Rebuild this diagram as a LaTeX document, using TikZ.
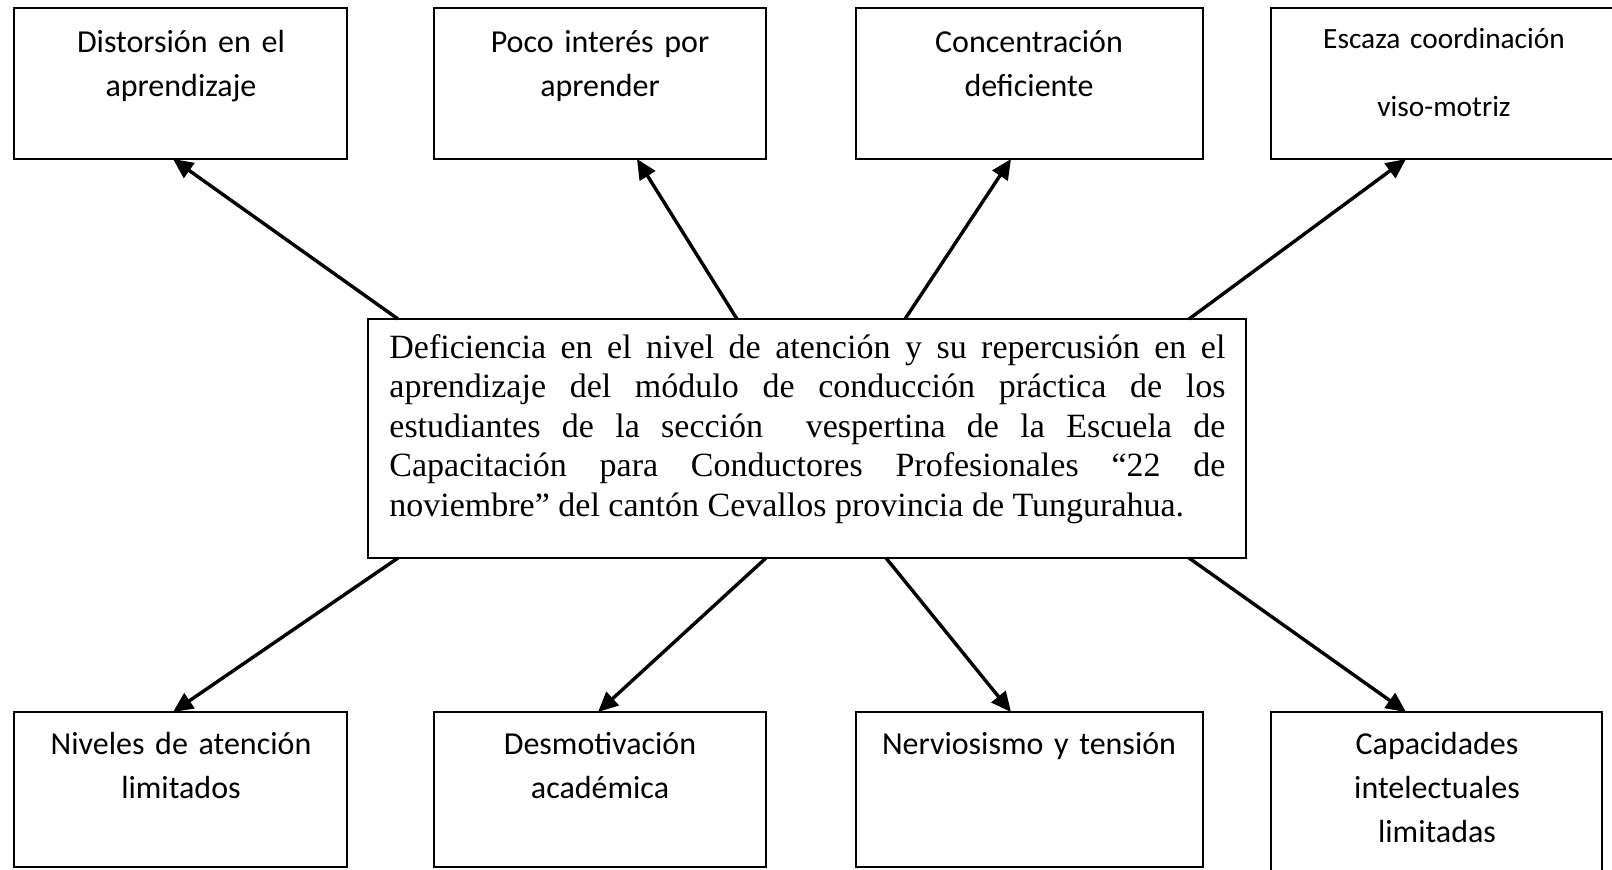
\documentclass[tikz,border=0pt]{standalone}
\usepackage{fontspec}
\setmainfont{Liberation Serif}
\newfontfamily\calfont{Carlito}
\usetikzlibrary{arrows.meta,calc}
\begin{document}
\begin{tikzpicture}[x=0.5pt,y=-0.5pt,
  box/.style={draw, line width=0.9pt, inner sep=0pt, outer sep=0pt},
  lbl/.style={font=\calfont\fontsize{16}{22}\selectfont, text width=160pt, anchor=base, inner sep=0pt,
    execute at begin node=\centering},
  maintext/.style={font=\fontsize{17}{19.8}\selectfont, text width=418pt, align=justify, anchor=base west, inner sep=0pt},
  arr/.style={line width=1.7pt, -{Triangle[length=10pt,width=9pt]}}]
\fill[white] (0,0) rectangle (1612,869);
\useasboundingbox (0,0) rectangle (1612,869);
\clip (0,0) rectangle (1612,869);
% top boxes
\node[box, minimum width=166.5pt, minimum height=75.5pt] (b1) at (180.5,83.5) {};
\node[box, minimum width=166pt, minimum height=75.5pt] (b2) at (600,83.5) {};
\node[box, minimum width=173.5pt, minimum height=75.5pt] (b3) at (1029.5,83.5) {};
\node[box, minimum width=184.5pt, minimum height=75.5pt] (b4) at (1455.5,83.5) {};
% central box
\node[box, minimum width=439pt, minimum height=119.5pt] (c) at (807,438.5) {};
% bottom boxes
\node[box, minimum width=166.5pt, minimum height=77.5pt] (b5) at (180.5,789.5) {};
\node[box, minimum width=166pt, minimum height=77.5pt] (b6) at (600,789.5) {};
\node[box, minimum width=173.5pt, minimum height=77.5pt] (b7) at (1029.5,789.5) {};
\node[box, minimum width=165.5pt, minimum height=94pt] (b8) at (1436.5,806) {};
% texts
\node[lbl] (t1) at (181,52) {Distorsión en el\\aprendizaje};
\node[lbl] (t2) at (600,52) {Poco interés por\\aprender};
\node[lbl] (t3) at (1029,52) {Concentración\\deficiente};
\node[lbl, font=\calfont\fontsize{14.67}{34}\selectfont] (t4) at (1444,48) {Escaza coordinación\\viso-motriz};
\node[maintext] (ct) at (389,358) {\hyphenpenalty=10000 Deficiencia en el nivel de atención y su repercusión en el\linebreak aprendizaje del módulo de conducción práctica de los\linebreak estudiantes de la sección\ \ vespertina de la Escuela de\linebreak Capacitación para Conductores Profesionales “22 de\linebreak noviembre” del cantón Cevallos provincia de Tungurahua.};
\node[lbl] (t5) at (181,754) {Niveles de atención\\limitados};
\node[lbl] (t6) at (600,754) {Desmotivación\\académica};
\node[lbl] (t7) at (1029,754) {Nerviosismo y tensión};
\node[lbl] (t8) at (1437,754) {Capacidades\\intelectuales\\limitadas};
% arrows
\draw[arr] ($(c.north west)+(30,0)$) -- ($(b1.south)+(-7.5,0)$);
\draw[arr] ($(c.north west)+(369,0)$) -- ($(b2.south)+(37,0)$);
\draw[arr] ($(c.north west)+(537,0)$) -- ($(b3.south)+(-18.5,0)$);
\draw[arr] ($(c.north west)+(821,0)$) -- ($(b4.south)+(-49.5,0)$);
\draw[arr] ($(c.south west)+(30,0)$) -- ($(b5.north)+(-7.5,0)$);
\draw[arr] ($(c.south west)+(398,0)$) -- ($(b6.north)+(-2,0)$);
\draw[arr] ($(c.south west)+(518,0)$) -- ($(b7.north)+(-18.5,0)$);
\draw[arr] ($(c.south west)+(821,0)$) -- ($(b8.north)+(-30.5,0)$);
\end{tikzpicture}
\end{document}
